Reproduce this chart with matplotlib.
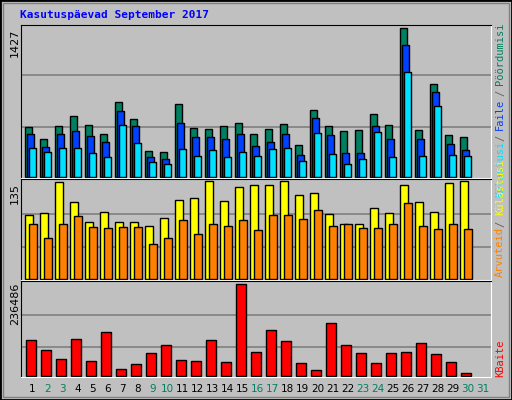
import matplotlib
matplotlib.use("Agg")
import matplotlib.pyplot as plt
from matplotlib.patches import Rectangle
import numpy as np

days = list(range(1, 31))
day_labels = [str(i) for i in range(1, 32)]
weekend = {2, 3, 9, 10, 16, 17, 23, 24, 30, 31}
hits = [478, 362, 487, 584, 497, 410, 720, 555, 255, 245, 700, 468, 458, 487, 516,
        410, 458, 507, 313, 642, 487, 439, 449, 604, 497, 1427, 449, 894, 400, 381]
files = [410, 294, 410, 439, 391, 342, 633, 487, 197, 178, 516, 381, 381, 362, 410,
         303, 342, 410, 216, 565, 400, 236, 236, 487, 371, 1262, 362, 817, 323, 265]
pages = [284, 245, 284, 284, 236, 197, 497, 332, 148, 129, 274, 207, 265, 197, 245,
         207, 274, 284, 158, 420, 226, 129, 178, 429, 197, 1010, 207, 681, 216, 207]
visits = [88, 91, 133, 106, 78, 92, 79, 79, 73, 84, 109, 111, 135, 107, 126,
          129, 129, 135, 116, 119, 89, 76, 76, 98, 91, 129, 106, 92, 132, 135]
sites = [76, 56, 76, 87, 72, 70, 72, 72, 48, 57, 81, 62, 76, 73, 81,
         67, 88, 88, 82, 95, 73, 75, 70, 70, 76, 104, 73, 69, 75, 69]
kbytes = [93500, 67500, 44200, 96100, 39000, 111700, 18200, 31200, 59800, 80500,
          41600, 39000, 93500, 36400, 236486, 62400, 116900, 90900, 33800, 15600,
          135100, 80500, 59800, 33800, 59800, 62400, 85700, 57200, 36400, 7800]

W, H = 512, 400
BG = "#C0C0C0"
fig = plt.figure(figsize=(W/100, H/100), dpi=100, facecolor=BG)

def fr(x0, y0, x1, y1):
    return [x0/W, 1-y1/H, (x1-x0)/W, (y1-y0)/H]

# border
fig.patches.append(Rectangle((0, 0), 1, 1, transform=fig.transFigure, fill=False,
                             edgecolor="black", lw=2))
fig.patches.append(Rectangle((3/W, 3/H), 1-6/W, 1-6/H, transform=fig.transFigure,
                             fill=False, edgecolor="#808080", lw=1))

XL, XR = -0.29, 31.07
x = np.arange(30)
panels = [(25, 178), (179, 280), (281, 377)]
axes = []
for (y0, y1) in panels:
    ax = fig.add_axes(fr(20.7, y0, 491, y1))
    ax.set_facecolor(BG)
    ax.set_xlim(XL, XR)
    ax.set_xticks([]); ax.set_yticks([])
    for s in ax.spines.values():
        s.set_color("white")
    ax.spines["left"].set_color("black")
    ax.spines["top"].set_color("black")
    axes.append(ax)

ek = dict(edgecolor="black", linewidth=1, align="edge")
ax = axes[0]
m = 1427
ax.set_ylim(-6, m*1.02)
for g in (m*0.34, m*0.685):
    ax.axhline(g, color="#808080", lw=1.2, zorder=0)
ax.bar(x+0.0, hits, 0.47, color="#008060", **ek)
ax.bar(x+0.13, files, 0.47, color="#0040FF", **ek)
ax.bar(x+0.27, pages, 0.47, color="#00E0FF", **ek)

ax = axes[1]
m = 135
ax.set_ylim(-1.5, m*1.02)
for g in (m*0.33, m*0.66):
    ax.axhline(g, color="#808080", lw=1.2, zorder=0)
ax.bar(x+0.0, visits, 0.55, color="#FFFF00", **ek)
ax.bar(x+0.27, sites, 0.55, color="#FF8000", **ek)

ax = axes[2]
m = 236486
ax.set_ylim(-2500, m*1.03)
for g in (m*0.32, m*0.66):
    ax.axhline(g, color="#808080", lw=1.2, zorder=0)
ax.bar(x+0.07, kbytes, 0.66, color="#FF0000", **ek)

fig.text(20/W, 1-15/H, "Kasutuspäevad September 2017", color="#0000FF",
         family="DejaVu Sans Mono", weight="bold", fontsize=8, va="center", ha="left")

for txt, ytop in (("1427", 29), ("135", 183), ("236486", 283)):
    fig.text(15/W, 1-ytop/H, txt, rotation=90, ha="center", va="top",
             family="DejaVu Sans", fontsize=8, color="black")

for i, lab in enumerate(day_labels):
    xp = 25 + 15*i + 7.5
    fig.text(xp/W, 1-389/H, lab, ha="center", va="center", fontsize=7.5,
             color="#008060" if (i+1) in weekend else "black")

cw = 5.6
def vlabel(pieces, ybottom):
    pos = 0
    for s, c in pieces:
        yb = ybottom - pos*cw
        fig.text(500/W, 1-yb/H, s, rotation=90, ha="center", va="bottom",
                 family="DejaVu Sans Mono", fontsize=7.5, color=c)
        pos += len(s) + 1

vlabel([("Külastusi", "#00E0FF"), ("/", "#606060"), ("Faile", "#0040FF"),
        ("/", "#606060"), ("Pöördumisi", "#008060")], 29 + 30*cw)
vlabel([("Arvuteid", "#FF8000"), ("/", "#606060"), ("Külastusi", "#FFFF00")], 277)
vlabel([("KBaite", "#FF0000")], 377)

fig.savefig("out.png", dpi=100, facecolor=BG)
